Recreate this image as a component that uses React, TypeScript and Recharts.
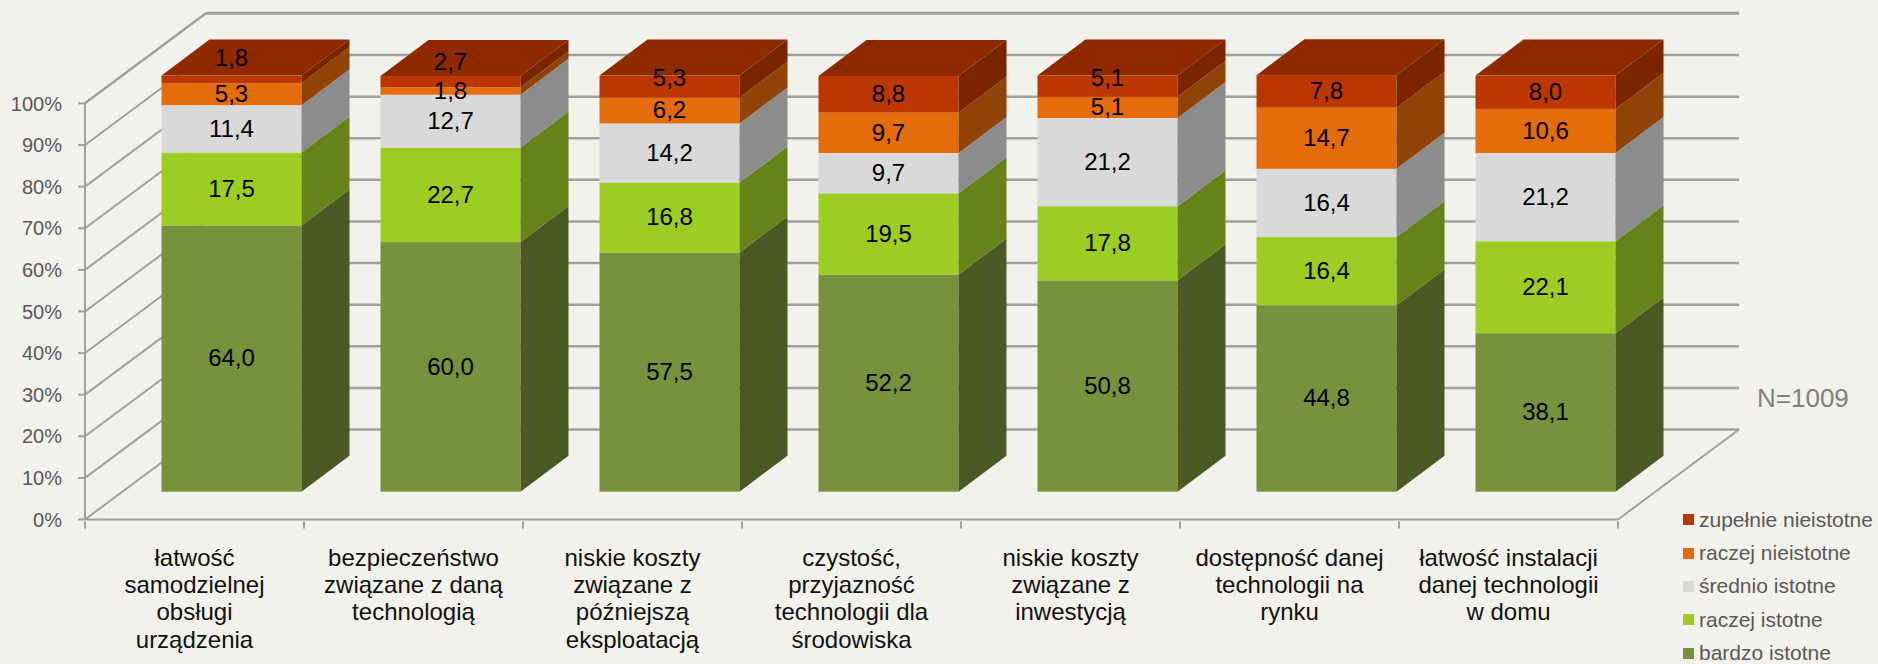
import React from 'react';
import { BarChart, Bar, XAxis, YAxis, CartesianGrid, Legend, LabelList } from 'recharts';

const categories = [
  'łatwość\nsamodzielnej\nobsługi\nurządzenia',
  'bezpieczeństwo\nzwiązane z daną\ntechnologią',
  'niskie koszty\nzwiązane z\npóźniejszą\neksploatacją',
  'czystość,\nprzyjazność\ntechnologii dla\nśrodowiska',
  'niskie koszty\nzwiązane z\ninwestycją',
  'dostępność danej\ntechnologii na\nrynku',
  'łatwość instalacji\ndanej technologii\nw domu',
];

const bardzoIstotne = [64.0, 60.0, 57.5, 52.2, 50.8, 44.8, 38.1];
const raczejIstotne = [17.5, 22.7, 16.8, 19.5, 17.8, 16.4, 22.1];
const srednioIstotne = [11.4, 12.7, 14.2, 9.7, 21.2, 16.4, 21.2];
const raczejNieistotne = [5.3, 1.8, 6.2, 9.7, 5.1, 14.7, 10.6];
const zupelnieNieistotne = [1.8, 2.7, 5.3, 8.8, 5.1, 7.8, 8.0];

const yTicks = [0, 10, 20, 30, 40, 50, 60, 70, 80, 90, 100];

const data = categories.map((name, i) => ({
  name,
  bardzo: bardzoIstotne[i],
  raczej: raczejIstotne[i],
  srednio: srednioIstotne[i],
  raczejNie: raczejNieistotne[i],
  zupelnie: zupelnieNieistotne[i],
}));

// fake 3D: the floor/walls depth and where the bars sit on the floor
const WALL_DX = 121;
const WALL_DY = -90;
const BAR_DX = 36.5;
const BAR_DY = -27.8;
const DEPTH_DX = 48;
const DEPTH_DY = -36;
const STEP = 219;

const FONT = '"Liberation Sans", Arial, sans-serif';
const GRID = '#a0a0a0';
const TEXT_GREY = '#595959';

const series = [
  { key: 'bardzo', name: 'bardzo istotne', front: '#77923c', side: '#4b5a25' },
  { key: 'raczej', name: 'raczej istotne', front: '#9dcd22', side: '#668319' },
  { key: 'srednio', name: 'średnio istotne', front: '#d9d9d9', side: '#8c8c8c' },
  { key: 'raczejNie', name: 'raczej nieistotne', front: '#e46c0a', side: '#904307' },
  { key: 'zupelnie', name: 'zupełnie nieistotne', front: '#bc3600', side: '#7a2400', top: '#8f2900' },
];

// labels that were dragged onto the top of the box in the original
const labelNudge: Record<string, number[]> = {
  zupelnie: [-21, -20, -9, 0, -8, 0, 0],
};

function Cuboid({ x, y, width, height, front, side, top }: any) {
  const fx = x + BAR_DX;
  const fy = y + BAR_DY;
  const r = fx + width;
  const b = fy + height;
  return (
    <g>
      <rect x={fx} y={fy} width={width} height={height} fill={front} />
      <polygon
        points={`${r},${fy} ${r + DEPTH_DX},${fy + DEPTH_DY} ${r + DEPTH_DX},${b + DEPTH_DY} ${r},${b}`}
        fill={side}
      />
      {top && (
        <polygon
          points={`${fx},${fy} ${fx + DEPTH_DX},${fy + DEPTH_DY} ${r + DEPTH_DX},${fy + DEPTH_DY} ${r},${fy}`}
          fill={top}
        />
      )}
    </g>
  );
}

function WallLine({ x1, y1, x2, index }: any) {
  return (
    <g key={`wall-${index}`}>
      <line x1={x1} y1={y1} x2={x1 + WALL_DX} y2={y1 + WALL_DY} stroke={GRID} strokeWidth={2} />
      <line x1={x1 + WALL_DX} y1={y1 + WALL_DY} x2={x2 + WALL_DX} y2={y1 + WALL_DY} stroke={GRID} strokeWidth={2.5} />
      {index === 0 && (
        <line x1={x2} y1={y1} x2={x2 + WALL_DX} y2={y1 + WALL_DY} stroke={GRID} strokeWidth={2} />
      )}
    </g>
  );
}

function CategoryTick({ x, y, payload, index }: any) {
  const lines = String(payload.value).split('\n');
  return (
    <g>
      <line x1={x - STEP / 2} y1={y} x2={x - STEP / 2} y2={y + 7} stroke={GRID} strokeWidth={2} />
      {index === categories.length - 1 && (
        <line x1={x + STEP / 2} y1={y} x2={x + STEP / 2} y2={y + 7} stroke={GRID} strokeWidth={2} />
      )}
      {lines.map((line, i) => (
        <text key={i} x={x} y={y + 44 + i * 27.4} textAnchor="middle" fontSize={24} fontFamily={FONT} fill="#111">
          {line}
        </text>
      ))}
    </g>
  );
}

function LegendBox({ payload }: any) {
  const items = [...(payload || [])].reverse();
  return (
    <div style={{ fontFamily: FONT, fontSize: 21, color: TEXT_GREY }}>
      {items.map((item: any) => (
        <div key={item.value} style={{ display: 'flex', alignItems: 'center', height: 33.4 }}>
          <span style={{ width: 11, height: 11, background: item.color, marginRight: 5 }} />
          {item.value}
        </div>
      ))}
    </div>
  );
}

function valueLabel(seriesKey: string) {
  return (props: any) => {
    const { x, y, width, height, value, index } = props;
    const nudge = labelNudge[seriesKey]?.[index] ?? 0;
    return (
      <text
        x={x + BAR_DX + width / 2}
        y={y + BAR_DY + height / 2 + nudge}
        dy="0.33em"
        textAnchor="middle"
        fontSize={24}
        fontFamily={FONT}
        fill="#000"
      >
        {Number(value).toFixed(1).replace('.', ',')}
      </text>
    );
  };
}

export default function App() {
  return (
    <div style={{ position: 'absolute', left: 0, top: 0, width: 1878, height: 664, background: '#f3f1ec', overflow: 'hidden' }}>
      <BarChart
        width={1878}
        height={664}
        data={data}
        barSize={140}
        margin={{ top: 103, right: 260, left: 0, bottom: 0 }}
      >
        <CartesianGrid vertical={false} horizontal={(p: any) => <WallLine {...p} />} />
        <XAxis
          dataKey="name"
          height={144.5}
          interval={0}
          tickLine={false}
          tickSize={0}
          axisLine={{ stroke: GRID, strokeWidth: 2 }}
          tick={(p: any) => <CategoryTick {...p} />}
        />
        <YAxis
          width={85}
          domain={[0, 100]}
          ticks={yTicks}
          tickSize={7}
          tickMargin={16}
          tickFormatter={(v: number) => `${v}%`}
          axisLine={{ stroke: GRID, strokeWidth: 2 }}
          tickLine={{ stroke: GRID, strokeWidth: 2 }}
          tick={{ fontSize: 20, fontFamily: FONT, fill: TEXT_GREY }}
        />
        <Legend
          layout="horizontal"
          verticalAlign="middle"
          align="center"
          itemSorter={null}
          content={(p: any) => <LegendBox {...p} />}
          wrapperStyle={{ position: 'absolute', left: 1683, top: 503, width: 195, height: 170 }}
        />
        {series.map((s) => (
          <Bar
            key={s.key}
            dataKey={s.key}
            name={s.name}
            stackId="a"
            fill={s.front}
            isAnimationActive={false}
            shape={(p: any) => <Cuboid {...p} front={s.front} side={s.side} top={s.top} />}
          >
            <LabelList dataKey={s.key} content={valueLabel(s.key)} />
          </Bar>
        ))}
      </BarChart>
      <div style={{ position: 'absolute', left: 1757, top: 383, fontFamily: FONT, fontSize: 26, color: '#7f7f7f' }}>N=1009</div>
    </div>
  );
}
